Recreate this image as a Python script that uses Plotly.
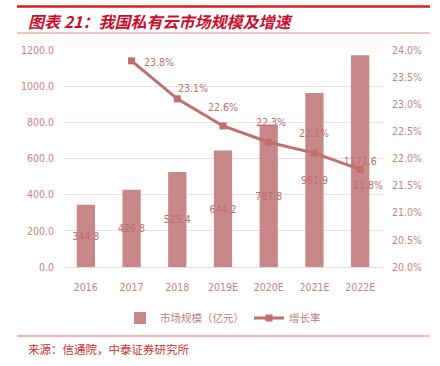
import plotly.graph_objects as go

categories = ["2016", "2017", "2018", "2019E", "2020E", "2021E", "2022E"]
market_size = [344.8, 426.8, 525.4, 644.2, 787.8, 961.9, 1171.6]
growth_rate = [None, 23.8, 23.1, 22.6, 22.3, 22.1, 21.8]
left_ticks = [0, 200, 400, 600, 800, 1000, 1200]
right_ticks = [20.0, 20.5, 21.0, 21.5, 22.0, 22.5, 23.0, 23.5, 24.0]

# label offsets (pixels) for the growth-rate labels
label_dx = [0, 27, 16, 0, 2, 0, 8]
label_dy = [0, -1, 11, 19, 20, 20, -16]

W, H = 440, 366
L, R, T, B = 63, 383, 50, 267

def px(x):
    return (x - L) / (R - L)

def py(y):
    return (B - y) / (B - T)

NUM_FONT = "DejaVu Sans Condensed, Liberation Sans, sans-serif"
CJK = "Noto Sans CJK SC, sans-serif"
BAR_COLOR = "#c98888"
LINE_COLOR = "#c06e6e"
TEXT_COLOR = "#b8706f"
TICK_COLOR = "#c48383"
NS = 10.5

fig = go.Figure()
fig.add_trace(go.Bar(
    x=categories, y=market_size, name="市场规模（亿元）",
    marker=dict(color=BAR_COLOR, line=dict(width=0)),
    width=0.4,
    text=[f"{v:.1f}" for v in market_size],
    textposition="inside", insidetextanchor="middle", textangle=0,
    constraintext="none", cliponaxis=False,
    textfont=dict(family=NUM_FONT, size=NS, color=TEXT_COLOR),
    yaxis="y",
))
fig.add_trace(go.Scatter(
    x=categories, y=growth_rate, name="增长率",
    mode="lines+markers",
    line=dict(color=LINE_COLOR, width=3),
    marker=dict(symbol="square", size=7, color=LINE_COLOR),
    cliponaxis=False,
    yaxis="y2",
))

shapes = [
    dict(type="line", xref="paper", yref="paper", x0=px(17), x1=px(430),
         y0=py(6.5), y1=py(6.5), line=dict(color="#d81e1e", width=2.5)),
    dict(type="line", xref="paper", yref="paper", x0=px(17), x1=px(430),
         y0=py(33), y1=py(33), line=dict(color="#e88a8a", width=1)),
    dict(type="line", xref="paper", yref="paper", x0=px(17), x1=px(430),
         y0=py(336), y1=py(336), line=dict(color="#e06b6b", width=1)),
]

annotations = [
    dict(text="<b><i>图表 21：我国私有云市场规模及增速</i></b>", xref="paper", yref="paper",
         x=px(26), y=py(21), xanchor="left", yanchor="middle", showarrow=False,
         font=dict(family=CJK, size=16, color="#c8102e")),
    dict(text="来源：信通院，中泰证券研究所", xref="paper", yref="paper",
         x=px(26), y=py(349), xanchor="left", yanchor="middle", showarrow=False,
         font=dict(family=CJK, size=11.5, color="#d0302f")),
]
for i, (v, dx, dy) in enumerate(zip(growth_rate, label_dx, label_dy)):
    if v is None:
        continue
    annotations.append(dict(
        text=f"{v:.1f}%", x=i, y=v, xref="x", yref="y2",
        xanchor="center", yanchor="middle", showarrow=False,
        xshift=dx, yshift=dy,
        font=dict(family=NUM_FONT, size=NS, color=TEXT_COLOR),
    ))

fig.update_layout(
    width=W, height=H,
    margin=dict(l=L, r=W - R, t=T, b=H - B),
    paper_bgcolor="white", plot_bgcolor="white",
    bargap=0.6,
    showlegend=True,
    legend=dict(orientation="h", x=0.5, xanchor="center", y=py(318), yanchor="middle",
                font=dict(family=CJK, size=10.5, color="#b88080"),
                itemwidth=30, bgcolor="rgba(0,0,0,0)"),
    xaxis=dict(type="category", showgrid=False, showline=True, linecolor="#f0dada",
               linewidth=1, ticks="", ticklabelstandoff=10, automargin=False,
               tickfont=dict(family=NUM_FONT, size=NS, color=TICK_COLOR),
               range=[-0.5, 6.5]),
    yaxis=dict(range=[0, 1200], tickvals=left_ticks,
               ticktext=[f"{v:.1f}" for v in left_ticks],
               showgrid=True, gridcolor="#f2dede", gridwidth=1, automargin=False,
               zeroline=False, showline=False, ticks="", ticklabelstandoff=8,
               tickfont=dict(family=NUM_FONT, size=NS, color=TICK_COLOR)),
    yaxis2=dict(range=[20, 24], tickvals=right_ticks,
                ticktext=[f"{v:.1f}%" for v in right_ticks],
                overlaying="y", side="right", showgrid=False, zeroline=False,
                showline=False, ticks="", ticklabelstandoff=8, automargin=False,
                tickfont=dict(family=NUM_FONT, size=NS, color=TICK_COLOR)),
    shapes=shapes,
    annotations=annotations,
)

fig.write_html("out.html", config={"displayModeBar": False},
               post_script="document.body.style.margin='0';")
